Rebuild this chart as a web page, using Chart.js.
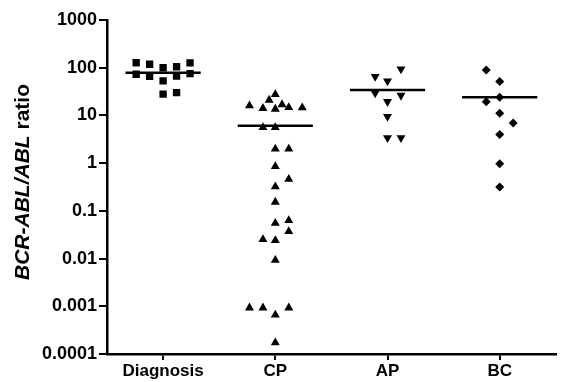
<!DOCTYPE html>
<html><head><meta charset="utf-8">
<script src="https://cdn.jsdelivr.net/npm/chart.js@4"></script>
<style>html,body{margin:0;padding:0;background:#fff}#wrap{width:561px;height:382px}</style>
</head><body><div id="wrap"><canvas id="c" width="561" height="382"></canvas></div>
<script>
const categories = ['Diagnosis', 'CP', 'AP', 'BC'];
const diagnosisValues = [127, 73, 118, 66, 100, 53, 105, 67, 126, 75, 28, 30];
const diagnosisJitter = [-0.24, -0.24, -0.12, -0.12, 0, 0, 0.12, 0.12, 0.24, 0.24, 0, 0.12];
const cpValues = [16.0, 14.1, 21.0, 27.5, 13.6, 16.9, 14.7, 14.5, 5.6, 5.6, 1.98, 1.98, 0.85, 0.46, 0.32, 0.153, 0.055, 0.063, 0.037, 0.0253, 0.0239, 0.0093, 0.00093, 0.00093, 0.00093, 0.00066, 0.000172];
const cpJitter = [-0.23, -0.11, -0.055, 0, 0, 0.06, 0.12, 0.24, -0.11, 0, 0, 0.12, 0, 0.12, 0, 0, 0, 0.12, 0.12, -0.11, 0, 0, -0.23, -0.11, 0.12, 0, 0];
const apValues = [94, 65.4, 52.6, 29.5, 26.2, 19.4, 9.5, 3.4, 3.4];
const apJitter = [0.12, -0.11, 0, -0.11, 0.12, 0, 0, 0, 0.12];
const bcValues = [89.5, 51.4, 19.4, 24, 11.1, 6.9, 4.0, 0.97, 0.316];
const bcJitter = [-0.12, 0, -0.12, 0, 0, 0.12, 0, 0, 0];
const medianValues = [78, 6.1, 34, 24];
const yTickValues = [0.0001, 0.001, 0.01, 0.1, 1, 10, 100, 1000];
const yTickLabels = ['0.0001', '0.001', '0.01', '0.1', '1', '10', '100', '1000'];

const FONT = '"Liberation Sans", Arial, Helvetica, sans-serif';
function pts(vals, jit, idx) { return vals.map((v, i) => ({ x: idx + jit[i], y: v })); }
const HALF = 0.335;
const medianSets = medianValues.map((m, i) => ({
  type: 'line', data: [{ x: i - HALF, y: m }, { x: i + HALF, y: m }],
  borderColor: '#000', borderWidth: 2.5, pointRadius: 0, showLine: true, order: 2
}));
const base = { backgroundColor: '#000', borderColor: '#000', borderWidth: 0, order: 1 };
const datasets = [
  Object.assign({ data: pts(diagnosisValues, diagnosisJitter, 0), pointStyle: 'rect', pointRadius: 5.2 }, base),
  Object.assign({ data: pts(cpValues, cpJitter, 1), pointStyle: 'triangle', pointRadius: 5.2 }, base),
  Object.assign({ data: pts(apValues, apJitter, 2), pointStyle: 'triangle', rotation: 180, pointRadius: 5.2 }, base),
  Object.assign({ data: pts(bcValues, bcJitter, 3), pointStyle: 'rectRot', pointRadius: 4.5 }, base),
  ...medianSets
];

const yTitlePlugin = {
  id: 'ytitle',
  afterDraw(chart) {
    const ctx = chart.ctx, a = chart.chartArea;
    ctx.save();
    ctx.translate(23, (a.top + a.bottom) / 2 - 5);
    ctx.rotate(-Math.PI / 2);
    const f1 = 'italic bold 21px ' + FONT, f2 = 'bold 21px ' + FONT;
    const t1 = 'BCR-ABL/ABL', t2 = ' ratio';
    ctx.font = f1; const w1 = ctx.measureText(t1).width;
    ctx.font = f2; const w2 = ctx.measureText(t2).width;
    const x0 = -(w1 + w2) / 2;
    ctx.textBaseline = 'middle'; ctx.fillStyle = '#000';
    ctx.font = f1; ctx.fillText(t1, x0, 0);
    ctx.font = f2; ctx.fillText(t2, x0 + w1, 0);
    ctx.restore();
  }
};

new Chart(document.getElementById('c'), {
  type: 'scatter',
  data: { datasets },
  plugins: [yTitlePlugin],
  options: {
    responsive: false, animation: false, devicePixelRatio: 1,
    layout: { padding: { left: 0, right: 0, top: 20, bottom: 0 } },
    plugins: { legend: { display: false }, tooltip: { enabled: false } },
    scales: {
      x: {
        type: 'linear', min: -0.5, max: 3.5,
        afterBuildTicks: s => { s.ticks = categories.map((c, i) => ({ value: i })); },
        ticks: { callback: (v, i) => categories[i], color: '#000', font: { family: FONT, size: 17, weight: 'bold' }, padding: 1, autoSkip: false, maxRotation: 0 },
        grid: { display: true, drawOnChartArea: false, drawTicks: true, tickLength: 6, color: '#000', lineWidth: 2 },
        border: { display: true, color: '#000', width: 2.5 },
        afterFit: s => { s.height = 28; }
      },
      y: {
        type: 'logarithmic', min: 0.0001, max: 1000,
        afterBuildTicks: s => { s.ticks = yTickValues.map(v => ({ value: v, major: true })); },
        ticks: { callback: (v, i) => yTickLabels[i], color: '#000', font: { family: FONT, size: 18, weight: 'bold' }, padding: 2, autoSkip: false },
        grid: { display: true, drawOnChartArea: false, drawTicks: true, tickLength: 8, color: '#000', lineWidth: 2 },
        border: { display: true, color: '#000', width: 2.5 },
        afterFit: s => { s.width = 107; }
      }
    }
  }
});
</script></body></html>
